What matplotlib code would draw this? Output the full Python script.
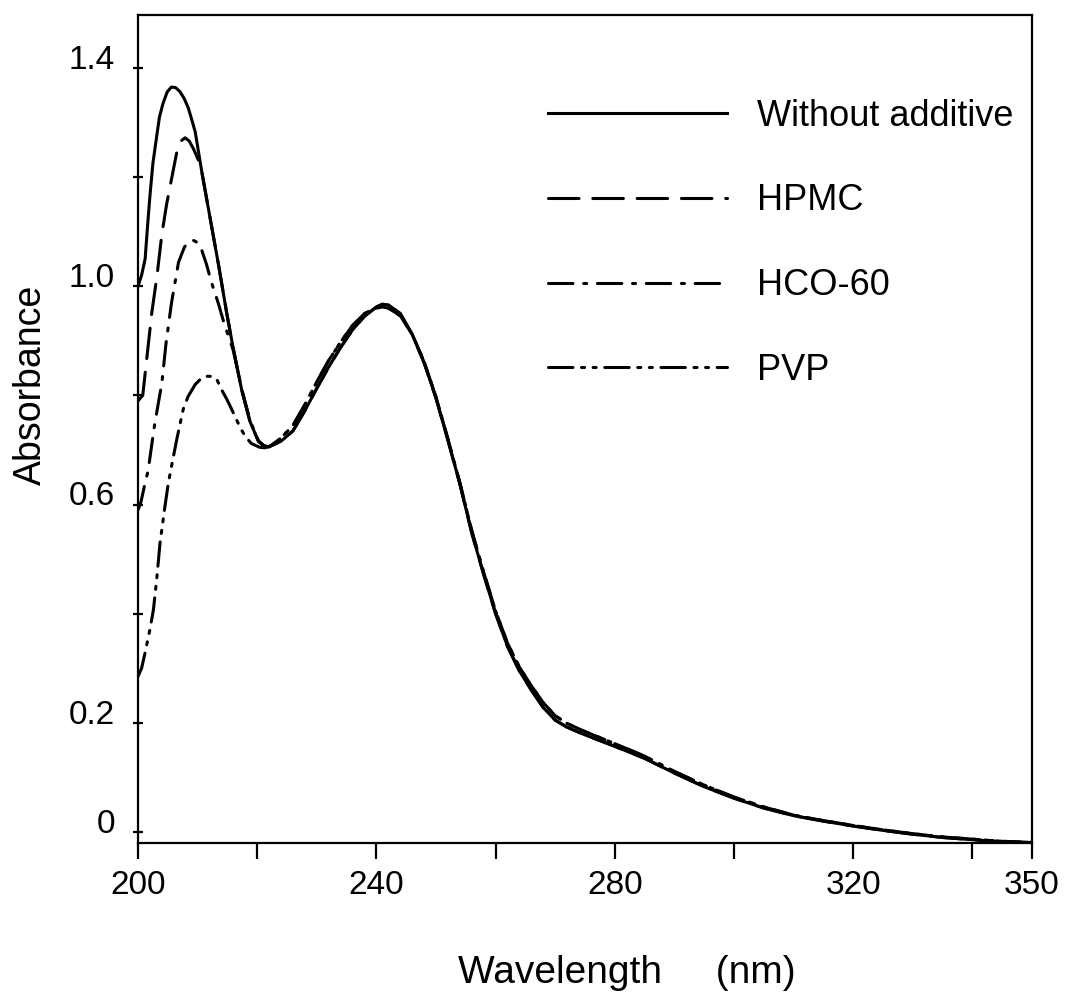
import matplotlib
matplotlib.use('Agg')
import matplotlib.pyplot as plt
from matplotlib.transforms import ScaledTranslation

# wavelengths (nm) / absorbance
# left part, where the four spectra differ
wl_none = [200.0, 200.6, 201.2, 201.6, 202.0, 202.5, 203.1, 203.6, 204.2, 204.9, 205.6, 206.3, 207.0,
           207.7, 208.4, 209.0, 209.6, 210.7, 212.1, 213.5, 214.9, 216.0, 217.4, 218.8, 220.2, 221.2]
abs_none = [1.000, 1.020, 1.050, 1.110, 1.165, 1.225, 1.272, 1.310, 1.335, 1.356, 1.365, 1.364, 1.357,
            1.345, 1.328, 1.306, 1.283, 1.210, 1.125, 1.040, 0.950, 0.885, 0.810, 0.752, 0.716, 0.707]

wl_hpmc = [200.0, 200.8, 201.5, 202.3, 203.2, 204.0, 204.8, 205.6, 206.5, 207.2, 207.9, 208.6, 209.3,
           210.1, 210.7, 212.1, 213.5, 214.9, 216.0, 217.4, 218.8, 220.2, 221.2]
abs_hpmc = [0.790, 0.800, 0.870, 0.950, 1.020, 1.095, 1.150, 1.195, 1.245, 1.266, 1.272, 1.266, 1.252,
            1.232, 1.210, 1.125, 1.040, 0.950, 0.885, 0.810, 0.752, 0.716, 0.707]

wl_hco = [200.0, 200.5, 201.2, 201.7, 202.7, 203.4, 204.0, 204.7, 205.6, 206.8, 207.8, 208.6, 209.3,
          210.0, 210.7, 211.5, 212.3, 213.5, 214.5, 215.3, 216.0, 217.4, 218.8, 220.2, 221.2]
abs_hco = [0.590, 0.605, 0.640, 0.662, 0.740, 0.785, 0.822, 0.895, 0.968, 1.044, 1.072, 1.082, 1.084,
           1.080, 1.066, 1.040, 1.008, 0.968, 0.930, 0.905, 0.882, 0.812, 0.754, 0.717, 0.707]

wl_pvp = [200.0, 200.6, 201.2, 202.0, 202.6, 203.2, 203.7, 204.5, 205.1, 205.8, 206.5, 207.0, 207.6, 208.4,
          209.6, 210.5, 211.5, 212.3, 213.2, 214.0, 214.9, 215.7, 216.5, 217.3, 218.0, 219.0, 220.4, 221.2]
abs_pvp = [0.285, 0.300, 0.329, 0.371, 0.408, 0.470, 0.530, 0.595, 0.640, 0.680, 0.719, 0.745, 0.775, 0.798,
           0.820, 0.830, 0.835, 0.835, 0.830, 0.811, 0.793, 0.775, 0.756, 0.738, 0.725, 0.712, 0.705, 0.704]

# right part, where they nearly coincide
wl_common = [222, 224, 226, 228, 230, 232, 234, 236, 238, 240, 241, 242, 244, 246, 248, 250, 252, 254,
             256, 258, 260, 262, 264, 266, 268, 270, 272, 275, 280, 285, 290, 295, 300, 305, 310, 315,
             320, 325, 330, 335, 340, 345, 350]
abs_plain = [0.706, 0.716, 0.735, 0.772, 0.813, 0.852, 0.888, 0.920, 0.945, 0.962, 0.967, 0.966, 0.950,
             0.912, 0.860, 0.795, 0.718, 0.638, 0.548, 0.472, 0.400, 0.340, 0.295, 0.260, 0.228, 0.205,
             0.192, 0.178, 0.157, 0.135, 0.108, 0.083, 0.062, 0.044, 0.030, 0.020, 0.011, 0.003, -0.004,
             -0.010, -0.014, -0.018, -0.020]
abs_additive = [0.706, 0.722, 0.745, 0.783, 0.825, 0.864, 0.898, 0.928, 0.950, 0.960, 0.962, 0.960, 0.946,
                0.912, 0.862, 0.797, 0.720, 0.640, 0.552, 0.476, 0.405, 0.346, 0.302, 0.268, 0.237, 0.213,
                0.199, 0.184, 0.162, 0.139, 0.111, 0.086, 0.064, 0.046, 0.031, 0.021, 0.012, 0.004, -0.003,
                -0.009, -0.013, -0.017, -0.019]

labels = ['Without additive', 'HPMC', 'HCO-60', 'PVP']
x_major = [200, 240, 280, 320, 350]
x_minor = [220, 260, 300, 340]
y_major = [0, 0.2, 0.6, 1.0, 1.4]
y_major_labels = ['0', '0.2', '0.6', '1.0', '1.4']
y_minor = [0.4, 0.8, 1.2]

plt.rcParams['font.family'] = ['Liberation Sans', 'DejaVu Sans']

fig = plt.figure(figsize=(10.73, 9.99), dpi=100)
ax = fig.add_axes([0.1286, 0.1562, 0.8332, 0.8288])

lw = 2.2
styles = ['-', (0, (10, 4.5)), (0, (8, 3.5, 1, 3.5)), (0, (8, 2.8, 1, 2.8, 1, 2.8))]
series = [
    (wl_none + wl_common, abs_none + abs_plain),
    (wl_hpmc + wl_common, abs_hpmc + abs_plain),
    (wl_hco + wl_common, abs_hco + abs_additive),
    (wl_pvp + wl_common, abs_pvp + abs_additive),
]
handles = []
for (x, y), ls, lab in zip(series, styles, labels):
    h, = ax.plot(x, y, color='black', lw=lw, linestyle=ls, label=lab,
                 dash_capstyle='round', solid_joinstyle='round')
    handles.append(h)

ax.set_xlim(200, 350)
ax.set_ylim(-0.02, 1.497)

for sp in ax.spines.values():
    sp.set_linewidth(1.6)

ax.set_xticks(x_major)
ax.set_xticklabels([str(v) for v in x_major])
ax.set_xticks(x_minor, minor=True)
ax.set_yticks(y_major)
ax.set_yticklabels(y_major_labels)
ax.set_yticks(y_minor, minor=True)

ax.tick_params(axis='x', which='both', direction='out', length=11.5, width=1.6, pad=8, labelsize=24)
ax.tick_params(axis='y', which='both', direction='inout', length=7, width=1.6, pad=13, labelsize=24)

# y labels sit a little above their ticks in the original
for t in ax.get_yticklabels():
    t.set_transform(t.get_transform() + ScaledTranslation(0, 8 / 72, fig.dpi_scale_trans))

ax.set_xlabel('Wavelength     (nm)', fontsize=28)
ax.xaxis.set_label_coords(0.547, -0.135)
ax.set_ylabel('Absorbance', fontsize=27)
ax.yaxis.set_label_coords(-0.100, 0.553)

ax.legend(handles, labels, loc='upper left', bbox_to_anchor=(0.4586, 0.899), frameon=False,
          fontsize=26, handlelength=4.96, handletextpad=0.83, labelspacing=1.38,
          borderpad=0, borderaxespad=0)

fig.savefig('out.png', dpi=100)
